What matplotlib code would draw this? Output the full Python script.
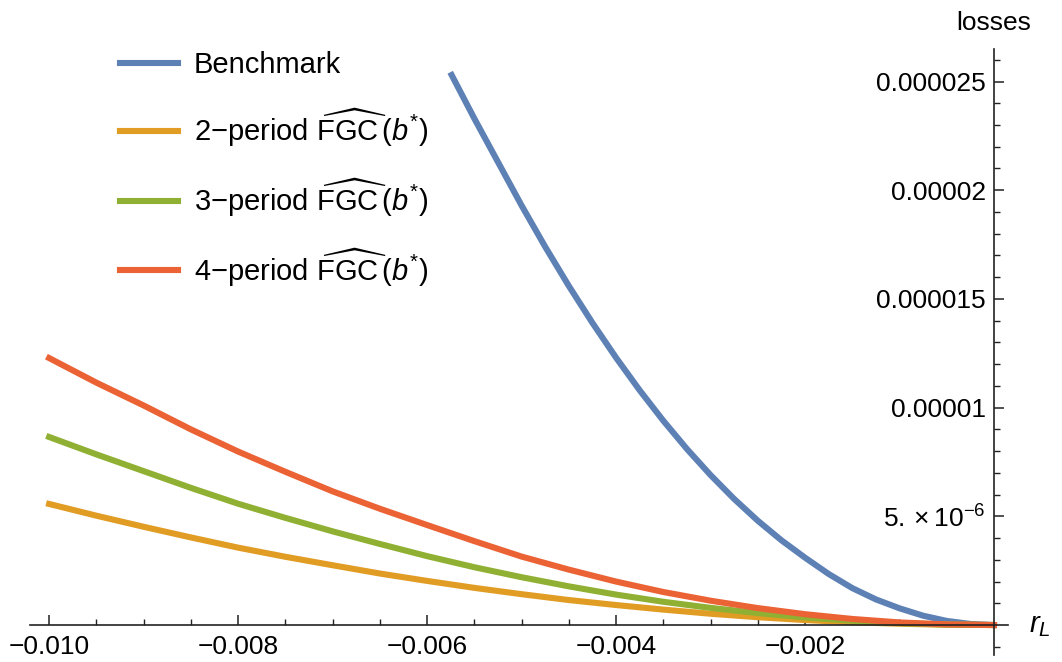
import matplotlib
matplotlib.use("Agg")
import matplotlib.pyplot as plt

plt.rcParams['font.family'] = ['Liberation Sans', 'DejaVu Sans']
plt.rcParams['mathtext.fontset'] = 'custom'
plt.rcParams['mathtext.rm'] = 'Liberation Sans'
plt.rcParams['mathtext.it'] = 'Liberation Sans:italic'

# values (losses in units of 1e-6)
rl_bench = [-0.00574, -0.0055, -0.00525, -0.005, -0.00475, -0.0045, -0.00425, -0.004,
            -0.00375, -0.0035, -0.00325, -0.003, -0.00275, -0.0025, -0.00225, -0.002,
            -0.00175, -0.0015, -0.00125, -0.001, -0.00075, -0.0005, -0.00025, 0.0]
loss_bench = [25.3, 23.3, 21.3, 19.3, 17.4, 15.6, 13.9, 12.3,
              10.8, 9.4, 8.1, 6.9, 5.8, 4.8, 3.9, 3.1,
              2.35, 1.7, 1.18, 0.77, 0.43, 0.19, 0.05, 0.0]

rl = [-0.010, -0.0095, -0.009, -0.0085, -0.008, -0.0075, -0.007, -0.0065, -0.006, -0.0055,
      -0.005, -0.0045, -0.004, -0.0035, -0.003, -0.0025, -0.002, -0.0015, -0.001, -0.0005, 0.0]
loss_2p = [5.57, 5.03, 4.52, 4.03, 3.56, 3.14, 2.75, 2.37, 2.03, 1.71,
           1.42, 1.15, 0.92, 0.71, 0.52, 0.36, 0.23, 0.13, 0.06, 0.015, 0.0]
loss_3p = [8.65, 7.85, 7.08, 6.31, 5.58, 4.93, 4.31, 3.73, 3.17, 2.66,
           2.2, 1.78, 1.4, 1.07, 0.79, 0.55, 0.35, 0.2, 0.09, 0.022, 0.0]
loss_4p = [12.28, 11.15, 10.1, 9.0, 7.98, 7.05, 6.15, 5.35, 4.6, 3.86,
           3.15, 2.55, 2.0, 1.52, 1.12, 0.78, 0.5, 0.28, 0.12, 0.03, 0.0]

names = ["Benchmark",
         r"2$-$period $\widehat{\mathrm{FGC}}\,(b^{*})$",
         r"3$-$period $\widehat{\mathrm{FGC}}\,(b^{*})$",
         r"4$-$period $\widehat{\mathrm{FGC}}\,(b^{*})$"]
colors = ["#5E81B5", "#E19C24", "#8FB032", "#EB6235"]

x_ticks = [-0.010, -0.008, -0.006, -0.004, -0.002]
x_labels = ["\u22120.010", "\u22120.008", "\u22120.006", "\u22120.004", "\u22120.002"]
x_minor = [-0.0095, -0.009, -0.0085, -0.0075, -0.007, -0.0065, -0.0055, -0.005, -0.0045,
           -0.0035, -0.003, -0.0025, -0.0015, -0.001, -0.0005]
y_ticks = [5e-6, 1e-5, 1.5e-5, 2e-5, 2.5e-5]
y_labels = [r"$5.\times10^{-6}$", "0.00001", "0.000015", "0.00002", "0.000025"]
y_minor = [k * 1e-6 for k in range(-1, 27) if k % 5 != 0]

fig = plt.figure(figsize=(10.62, 6.62), dpi=100)
ax = fig.add_axes([0, 0, 1, 1])

ax.plot(rl_bench, [v * 1e-6 for v in loss_bench], color=colors[0], lw=4.4, label=names[0])
ax.plot(rl, [v * 1e-6 for v in loss_2p], color=colors[1], lw=4.4, label=names[1])
ax.plot(rl, [v * 1e-6 for v in loss_3p], color=colors[2], lw=4.4, label=names[2])
ax.plot(rl, [v * 1e-6 for v in loss_4p], color=colors[3], lw=4.4, label=names[3])

ax.set_xlim(-0.01052, 0.00072)
ax.set_ylim(-1.70e-6, 28.75e-6)
ax.patch.set_alpha(0)

for s in ['top', 'right']:
    ax.spines[s].set_visible(False)
ax.spines['left'].set_position(('data', 0))
ax.spines['bottom'].set_position(('data', 0))
ax.spines['left'].set_bounds(-1.4e-6, 26.5e-6)
ax.spines['bottom'].set_bounds(-0.0102, 0.00015)
for s in ['left', 'bottom']:
    ax.spines[s].set_color('#222222')
    ax.spines[s].set_linewidth(1.2)

ax.set_xticks(x_ticks, labels=x_labels)
ax.set_xticks(x_minor, minor=True)
ax.set_yticks(y_ticks, labels=y_labels)
ax.set_yticks(y_minor, minor=True)
ax.tick_params(axis='both', which='major', direction='in', length=7.5, width=1.1,
               color='#222222', labelsize=19, pad=6)
ax.tick_params(axis='both', which='minor', direction='in', length=4.5, width=1.0,
               color='#222222')
ax.tick_params(axis='x', which='major', pad=7)

ax.text(0, 27.7e-6, "losses", fontsize=19, ha='center', va='center')
ax.text(0.00037, 0, r"$r_{L}$", fontsize=21, ha='left', va='center')

leg = ax.legend(loc='upper left', bbox_to_anchor=(0.088, 0.962), frameon=False,
                fontsize=21, handlelength=2.0, handletextpad=0.55, labelspacing=0.95)
for h in leg.get_lines():
    h.set_linewidth(4.4)

fig.savefig("out.png", dpi=100)
